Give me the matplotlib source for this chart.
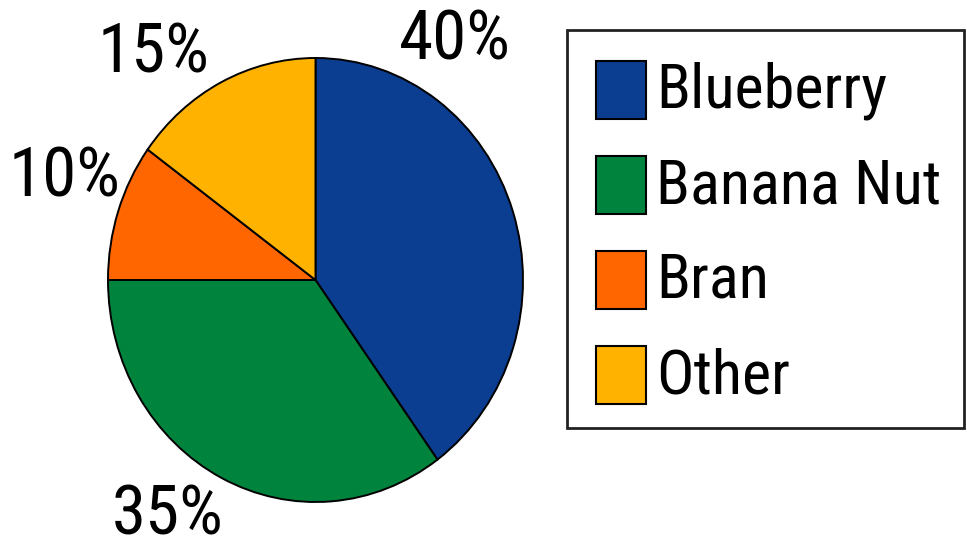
#!/usr/bin/env python3
"""Muffin share pie chart with a boxed legend on the right."""

import matplotlib

matplotlib.use("Agg")

import matplotlib.pyplot as plt
from matplotlib import font_manager
from matplotlib.patches import Rectangle

flavours = ["Blueberry", "Banana Nut", "Bran", "Other"]
shares = [40, 35, 10, 15]
pct_labels = ["40%", "35%", "10%", "15%"]
colors = ["#0b3d91", "#00843d", "#ff6600", "#ffb300"]

W, H = 967, 557


def pick_font(candidates: list[str]) -> str:
    # first installed family wins (the original uses a condensed sans)
    for name in candidates:
        try:
            font_manager.findfont(name, fallback_to_default=False)
            return name
        except ValueError:
            continue
    return "DejaVu Sans"


FONT = pick_font(["Roboto Condensed", "Open Sans Condensed", "Liberation Sans Narrow", "Lato"])
plt.rcParams["font.family"] = [FONT, "DejaVu Sans"]


def fit_width(fig, texts, sample, target_px):
    # scale a group of texts so `sample` is target_px wide
    renderer = fig.canvas.get_renderer()
    width = sample.get_window_extent(renderer).width
    size = sample.get_fontsize() * target_px / width
    for t in texts:
        t.set_fontsize(size)


def main() -> None:
    fig = plt.figure(figsize=(W / 100, H / 100), dpi=100)

    # pie axes (slightly taller than wide, like the original)
    left, right, top, bottom = 108, 523, 58, 502
    ax = fig.add_axes([left / W, (H - bottom) / H, (right - left) / W, (bottom - top) / H])
    ax.pie(
        shares,
        colors=colors,
        startangle=90,
        counterclock=False,
        wedgeprops={"edgecolor": "black", "linewidth": 1.4},
    )
    ax.set_aspect("auto")
    ax.set_xlim(-1, 1)
    ax.set_ylim(-1, 1)
    ax.axis("off")

    # percentage labels outside the pie (axes-relative offsets)
    label_pos = [(0.67, 1.08), (-0.71, -1.06), (-1.21, 0.46), (-0.78, 1.02)]
    pct_texts = [
        ax.text(x, y, text, fontsize=40, ha="center", va="center", clip_on=False)
        for text, (x, y) in zip(pct_labels, label_pos)
    ]

    # legend drawn in pixel coordinates
    lg = fig.add_axes([0, 0, 1, 1])
    lg.set_xlim(0, W)
    lg.set_ylim(H, 0)
    lg.axis("off")
    lg.add_patch(Rectangle((567, 30), 397, 398, fill=False, edgecolor="#222222", linewidth=2))
    row_y = [90, 185, 280, 375]
    leg_texts = []
    for name, color, y in zip(flavours, colors, row_y):
        lg.add_patch(Rectangle((596, y - 29), 50, 58, facecolor=color, edgecolor="black", linewidth=1.5))
        leg_texts.append(lg.text(656, y + 1, name, fontsize=40, ha="left", va="center"))

    fit_width(fig, pct_texts, pct_texts[0], 112)
    fit_width(fig, leg_texts, leg_texts[1], 285)

    fig.savefig("out.png", dpi=100)
    plt.close(fig)


if __name__ == "__main__":
    main()
